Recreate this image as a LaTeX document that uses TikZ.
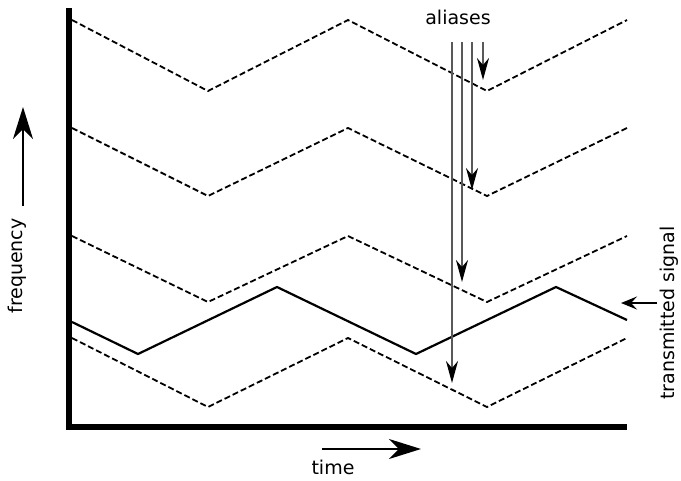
\documentclass[tikz,border=0pt]{standalone}
\usepackage{fontspec}
\setmainfont{DejaVu Sans}
\usetikzlibrary{arrows.meta}
\begin{document}
\begin{tikzpicture}[x=1pt,y=-1pt,
  aliasline/.style={draw=black!65,line width=1.8pt,-{Stealth[length=22pt,width=12pt,inset=7pt,color=black]}},
  bigarrow/.style={line width=2pt,-{Stealth[length=32pt,width=20pt,inset=10pt]}},
  smallarrow/.style={line width=1.6pt,-{Stealth[length=16pt,width=13pt,inset=6pt]}},
  lbl/.style={inner sep=0pt,font=\fontsize{19}{22}\selectfont}]
\useasboundingbox (0,0) rectangle (681,480);
% axes
\coordinate (top) at (69,8);
\coordinate (origin) at (69,427);
\coordinate (right) at (627,427);
\draw[line width=5.5pt,line join=miter] (top) -- (origin) -- (right);
% dashed aliases
\foreach \y/\d in {20/71,128/68,236/66,338/69}{
  \draw[dash pattern=on 6pt off 3pt,line width=1.8pt]
    (72,\y) -- (208,\y+\d) -- (348,\y) -- (487,\y+\d) -- (627,\y);
}
% transmitted signal
\draw[line width=2.2pt] (72,322) -- (138,354) -- (277,287) -- (416,354) -- (556,287) -- (627,320);
% alias arrows
\node[lbl] (aliases) at (458,17) {aliases};
\coordinate (a1s) at (452,42); \coordinate (a1e) at (452,383);
\coordinate (a2s) at (462,42); \coordinate (a2e) at (462,282);
\coordinate (a3s) at (472,42); \coordinate (a3e) at (472,190);
\coordinate (a4s) at (483,42); \coordinate (a4e) at (483,80);
\draw[aliasline] (a1s) -- (a1e);
\draw[aliasline] (a2s) -- (a2e);
\draw[aliasline] (a3s) -- (a3e);
\draw[aliasline] (a4s) -- (a4e);
% frequency label
\node[lbl,rotate=90] (freq) at (17,266) {frequency};
\coordinate (fs) at (23,206); \coordinate (fe) at (23,107);
\draw[bigarrow] (fs) -- (fe);
% time label
\node[lbl] (time) at (333,467) {time};
\coordinate (ts) at (322,449); \coordinate (te) at (421,449);
\draw[bigarrow] (ts) -- (te);
% transmitted signal label
\node[lbl,rotate=90] (tx) at (669,313) {transmitted signal};
\coordinate (ss) at (657,303); \coordinate (se) at (621,303);
\draw[smallarrow] (ss) -- (se);
\end{tikzpicture}
\end{document}
